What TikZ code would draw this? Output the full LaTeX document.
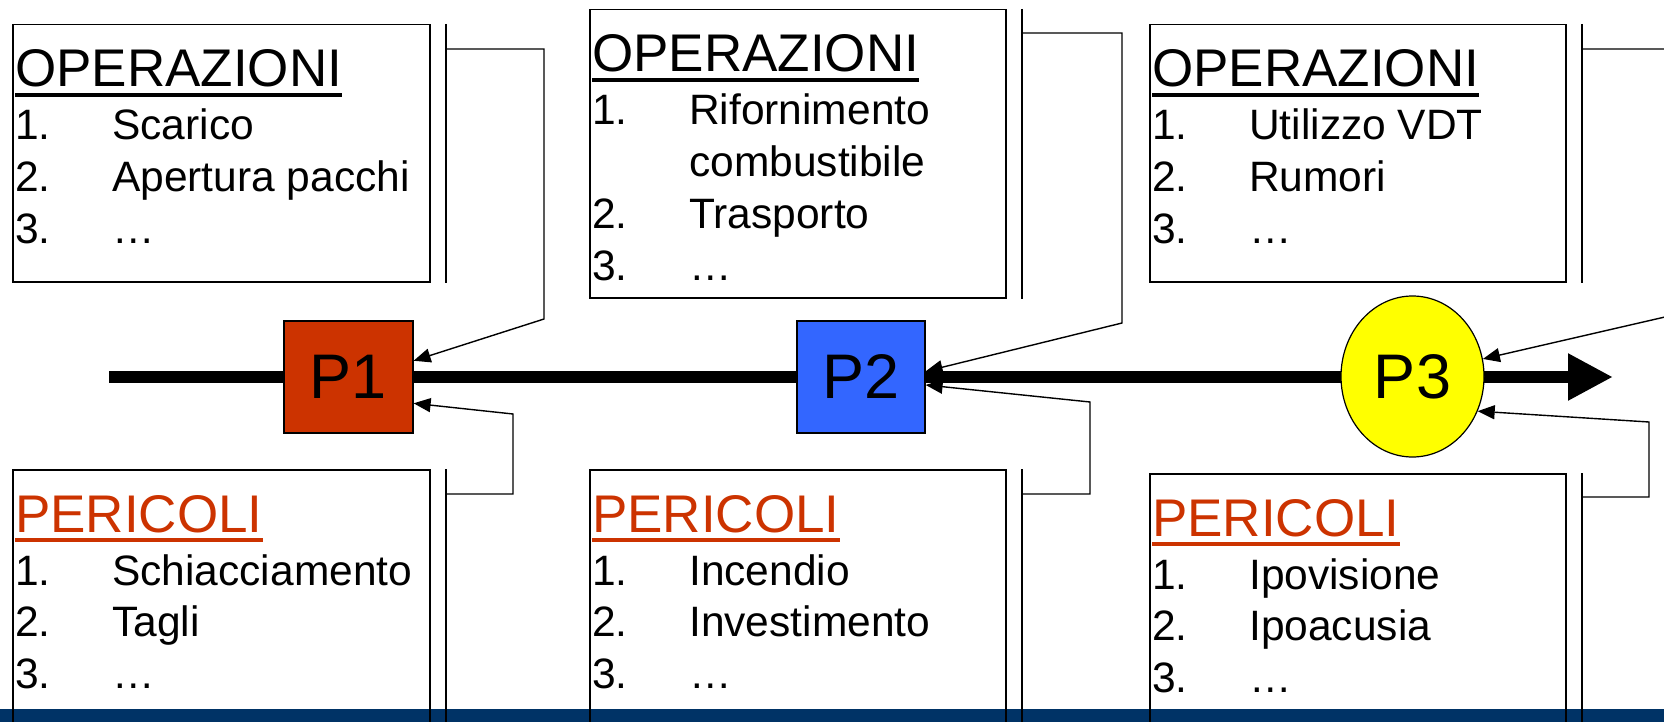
\documentclass[tikz,border=0pt]{standalone}
\usepackage{fontspec}
\setmainfont{Liberation Sans}
\usepackage{tikz}
\usetikzlibrary{arrows.meta,shapes.geometric}
\definecolor{rosso}{RGB}{204,51,0}
\definecolor{blu}{RGB}{51,102,255}
\definecolor{giallo}{RGB}{255,255,0}
\definecolor{notte}{RGB}{0,51,102}
\newcommand{\sottolinea}[1]{\setbox0\hbox{#1}\rlap{\rule[-9.7pt]{\wd0}{3.4pt}}\box0}
\newcommand{\scheda}[4]{%
  \node[titolo, text=#3] (#1-t) at ([shift={(3,63)}]#1.north west) {\sottolinea{#2}};
  \foreach \nr/\vc [count=\i from 0] in {#4}{
    \node[voce] (#1-n\i) at ([shift={(3,116+51.7*\i)}]#1.north west) {\nr};
    \node[voce] (#1-v\i) at ([shift={(100,116+51.7*\i)}]#1.north west) {\vc};
  }}

\begin{document}
\begin{tikzpicture}[x=1pt, y=-1pt]
  \tikzset{riquadro/.style={draw, line width=1.5pt, anchor=north west, inner sep=0pt},
    titolo/.style={anchor=base west, inner sep=0pt, font=\fontsize{53}{60}\selectfont},
    voce/.style={anchor=base west, inner sep=0pt, font=\fontsize{42.5}{50}\selectfont},
    punto/.style={draw, line width=1.2pt, inner sep=0pt, font=\fontsize{63}{70}\selectfont},
    barra/.style={line width=2pt},
    freccia/.style={line width=1.4pt, -{Triangle[length=17pt,width=14pt]}}}
  \clip (0,0) rectangle (1664,722);
  \fill[notte] (0,709) rectangle (1664,722);
  \coordinate (inizio) at (109,377);
  \coordinate (fine) at (1613,377);
  \draw[line width=12pt, -{Triangle[length=45pt,width=44pt]}] (inizio) -- (fine);
  \node[punto, fill=rosso, minimum width=129pt, minimum height=112pt] (P1) at (348.5,377) {P1};
  \node[punto, fill=blu, minimum width=128pt, minimum height=112pt] (P2) at (861,377) {P2};
  \node[punto, ellipse, fill=giallo, minimum width=143pt, minimum height=161pt] (P3) at (1412.5,376.5) {P3};
  \node[riquadro, minimum width=417pt, minimum height=257pt] (op1) at (12,24) {};
  \node[riquadro, minimum width=416pt, minimum height=288pt] (op2) at (589,9) {};
  \node[riquadro, minimum width=416pt, minimum height=257pt] (op3) at (1149,24) {};
  \node[riquadro, minimum width=417pt, minimum height=300pt] (per1) at (12,469) {};
  \node[riquadro, minimum width=416pt, minimum height=300pt] (per2) at (589,469) {};
  \node[riquadro, minimum width=416pt, minimum height=300pt] (per3) at (1149,473) {};
  \foreach \b in {op1,op2,op3,per1,per2,per3}
    \draw[barra] ([xshift=15.5pt]\b.north east) -- ([xshift=15.5pt]\b.south east);
  \scheda{op1}{OPERAZIONI}{black}{1./Scarico, 2./Apertura pacchi, 3./…}
  \scheda{op2}{OPERAZIONI}{black}{1./Rifornimento, /combustibile, 2./Trasporto, 3./…}
  \scheda{op3}{OPERAZIONI}{black}{1./Utilizzo VDT, 2./Rumori, 3./…}
  \scheda{per1}{PERICOLI}{rosso}{1./Schiacciamento, 2./Tagli, 3./…}
  \scheda{per2}{PERICOLI}{rosso}{1./Incendio, 2./Investimento, 3./…}
  \scheda{per3}{PERICOLI}{rosso}{1./Ipovisione, 2./Ipoacusia, 3./…}
  \draw[freccia] ([shift={(15.5,25)}]op1.north east) -- ++(98,0) -- ++(0,270) -- (P1.14);
  \draw[freccia] ([shift={(15.5,24)}]op2.north east) -- ++(100,0) -- ++(0,290) -- (P2.5);
  \draw[freccia] ([shift={(15.5,25)}]op3.north east) -- ++(200,0) -- ++(0,241) -- (P3.14);
  \draw[freccia] ([shift={(15.5,25)}]per1.north east) -- ++(67,0) -- ++(0,-80) -- (P1.338);
  \draw[freccia] ([shift={(15.5,25)}]per2.north east) -- ++(68,0) -- ++(0,-92) -- (P2.353);
  \draw[freccia] ([shift={(15.5,24)}]per3.north east) -- ++(67,0) -- ++(0,-75) -- (P3.332);
\end{tikzpicture}
\end{document}
